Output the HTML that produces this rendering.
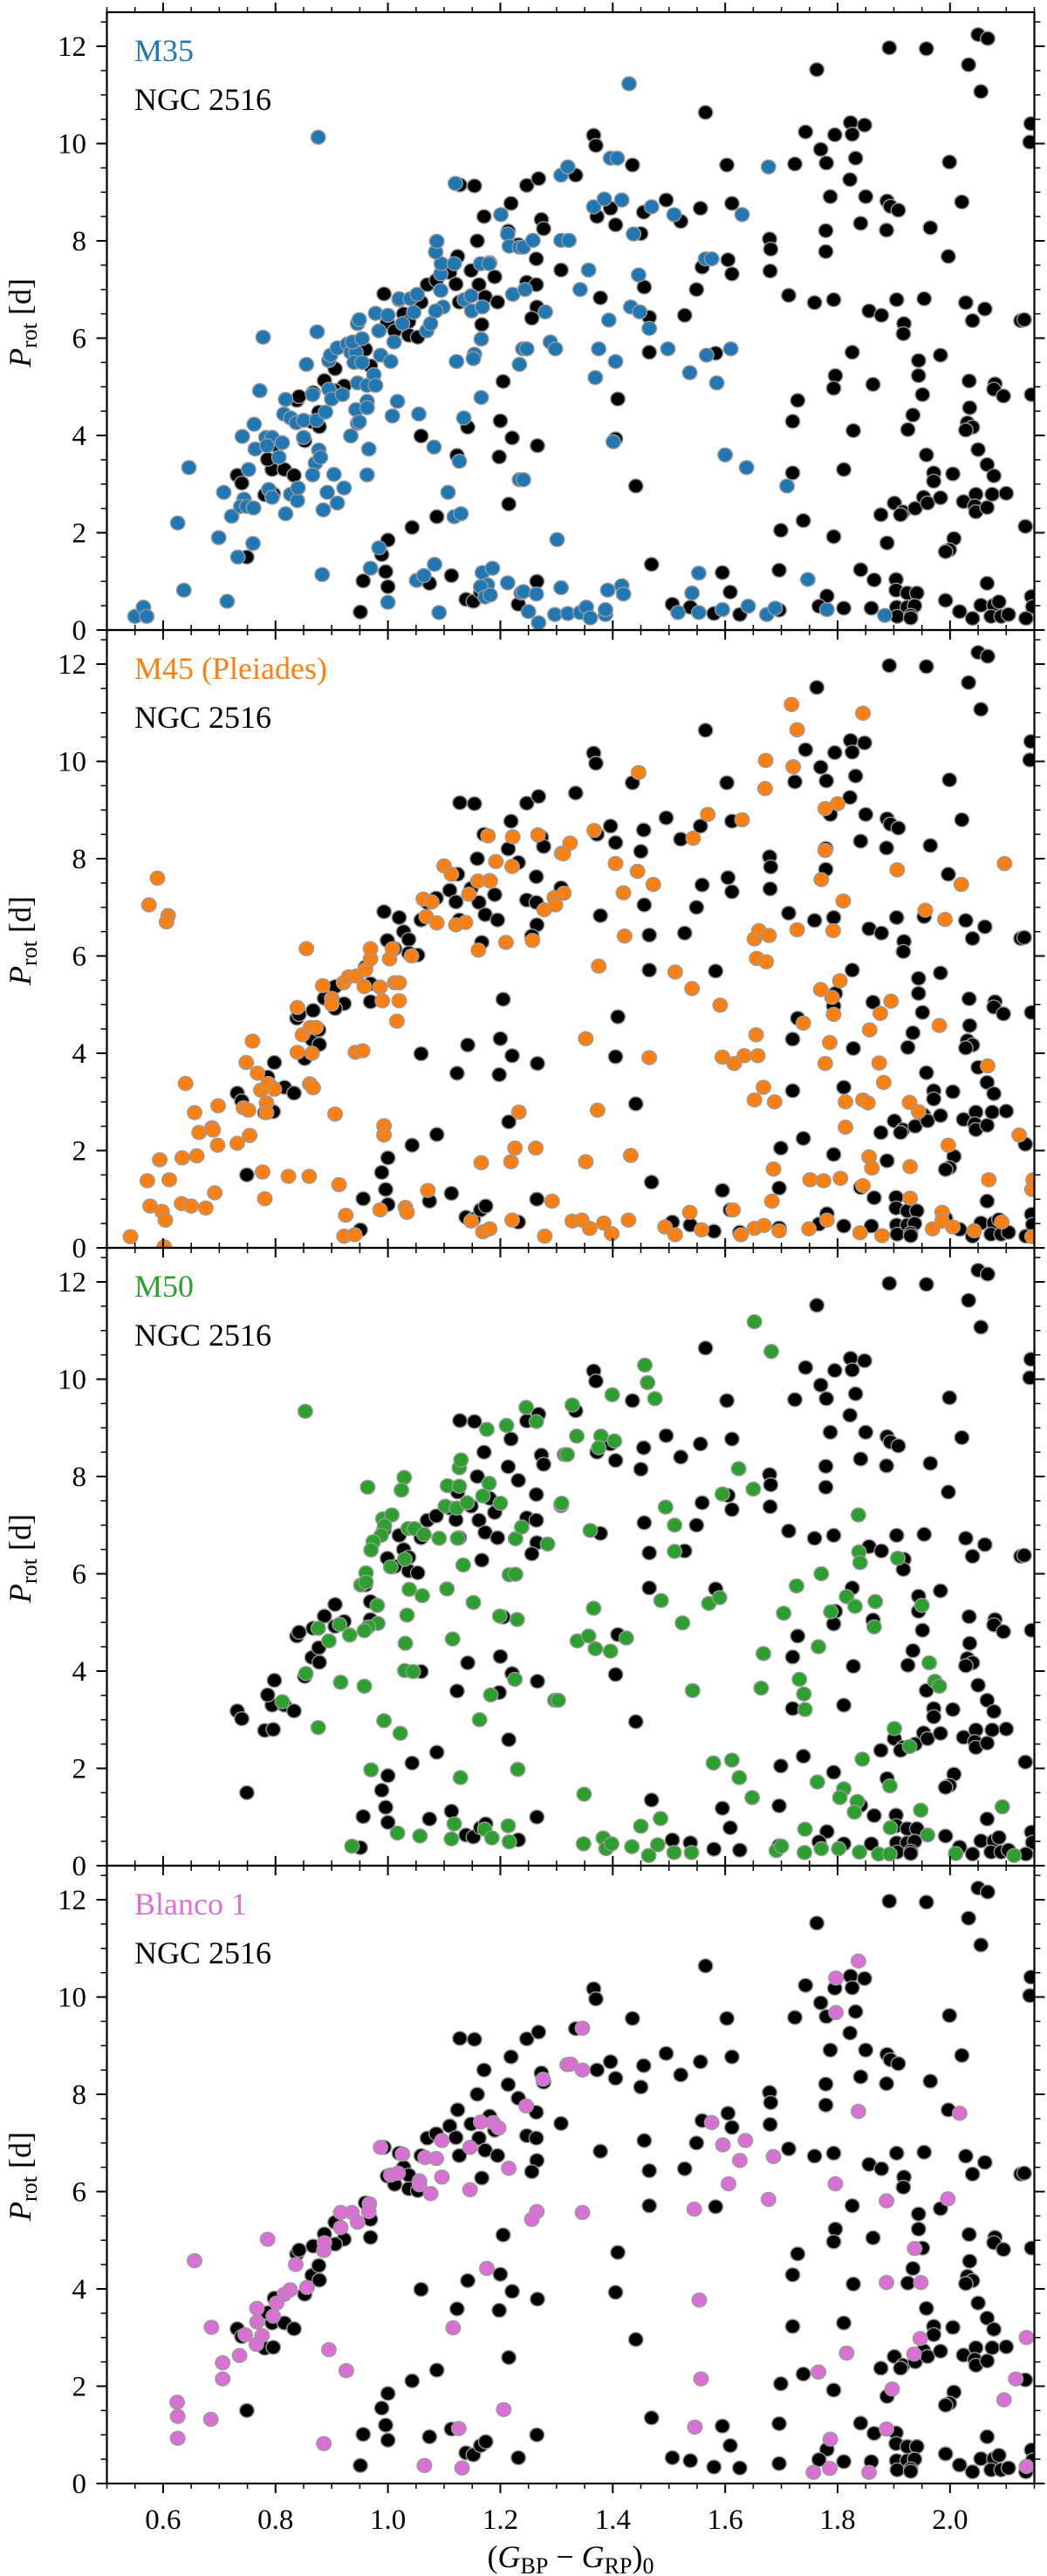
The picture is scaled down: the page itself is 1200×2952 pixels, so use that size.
<!DOCTYPE html>
<html><head><meta charset="utf-8"><title>Rotation periods vs colour</title>
<style>
html,body{margin:0;padding:0;background:#fff;}
svg{display:block;}
text{font-family:"Liberation Serif",serif;}
</style></head>
<body>
<svg id="chart" width="1200" height="2952" viewBox="0 0 1200 2952" xmlns="http://www.w3.org/2000/svg"></svg>
<script>
// ---- data ----
const xTicks = [0.6, 0.8, 1.0, 1.2, 1.4, 1.6, 1.8, 2.0];
const xTickLabels = ["0.6", "0.8", "1.0", "1.2", "1.4", "1.6", "1.8", "2.0"];
const yTicks = [0, 2, 4, 6, 8, 10, 12];
const yTickLabels = ["0", "2", "4", "6", "8", "10", "12"];
const panelNames = ["M35", "M45 (Pleiades)", "M50", "Blanco 1"];

const ngc2516 = [
[0.732,3.18],[0.74,3.02],[0.781,2.78],[0.796,2.8],[0.794,3.3],[0.816,3.3],[0.833,3.18],[0.786,3.51],[0.798,3.81],[0.749,1.5],
[0.852,3.89],[0.865,4.28],[0.878,4.18],[0.877,4.48],[0.838,4.72],[0.842,4.8],[0.867,4.88],[0.887,5.13],[0.906,5.37],[0.922,5.02],
[0.906,4.92],[0.969,5.43],[0.969,5.06],[0.96,5.77],[0.993,6.91],[1.02,6.79],[1.028,6.5],[0.999,6.32],[1.012,6.15],[1.037,6.34],
[1.037,6.06],[1.053,6.02],[1.059,6.74],[1.07,7.1],[1.086,7.19],[1.11,7.35],[1.121,7.11],[1.124,7.68],[1.127,6.74],[1.128,9.15],
[1.154,9.13],[1.148,7.39],[1.162,7.1],[1.173,6.85],[1.159,8.0],[1.171,8.5],[1.195,6.74],[1.167,6.28],[1.181,7.55],[1.19,7.26],
[1.219,8.77],[1.214,8.2],[1.232,7.92],[1.205,5.11],[1.2,4.3],[1.221,3.95],[1.198,3.56],[1.142,4.17],[1.123,3.59],[1.059,3.99],
[1.215,2.59],[1.087,2.33],[1.043,2.11],[1.0,1.85],[0.989,1.55],[0.996,1.2],[1.0,0.89],[0.956,1.01],[0.951,0.37],[1.074,0.96],
[1.113,1.12],[1.139,0.63],[1.152,0.59],[1.165,0.78],[1.174,0.86],[1.232,0.53],
[1.247,9.14],[1.268,9.28],[1.334,9.35],[1.366,10.17],[1.37,9.96],[1.435,9.56],[1.565,10.64],[1.603,9.56],[1.763,11.52],[1.892,11.97],
[1.958,11.95],[2.05,12.24],[2.067,12.16],[2.033,11.62],[2.055,11.07],[2.144,10.41],[2.142,10.03],[1.743,10.24],[1.795,10.18],[1.823,10.43],
[1.826,10.19],[1.848,10.38],[1.77,9.88],[1.78,9.6],[1.832,9.7],[1.724,9.58],[1.999,9.62],[1.273,8.44],[1.277,8.25],[1.372,8.5],
[1.396,8.67],[1.405,8.33],[1.45,8.15],[1.455,8.59],[1.495,8.84],[1.521,8.4],[1.556,8.67],[1.612,8.77],[1.679,8.04],[1.681,7.83],
[1.68,7.38],[1.605,7.61],[1.612,7.32],[1.559,7.46],[1.264,7.63],[1.308,7.4],[1.247,7.15],[1.264,7.1],[1.265,6.64],[1.256,6.41],
[1.378,6.83],[1.456,7.05],[1.465,6.43],[1.465,5.71],[1.549,7.0],[1.528,6.47],[1.583,5.69],[1.409,4.75],[1.405,3.93],[1.266,3.79],
[1.441,2.96],[1.469,1.35],[1.265,1.0],[1.595,1.18],[1.609,0.78],[1.506,0.53],[1.538,0.47],[1.58,0.34],[1.626,0.32],[1.696,0.41],
[1.696,1.23],[1.699,2.05],[1.739,2.25],[1.72,3.23],[1.72,4.29],[1.729,4.72],[1.713,6.88],[1.759,6.73],[1.779,8.21],[1.779,7.78],
[1.787,8.91],[1.793,6.79],[1.822,9.26],[1.85,8.91],[1.841,8.36],[1.888,8.82],[1.894,8.71],[1.908,8.63],[1.887,8.22],[1.965,8.27],
[2.021,8.8],[1.997,7.68],[1.856,6.56],[1.878,6.47],[1.905,6.79],[1.918,6.3],[1.917,6.09],[1.954,6.81],[2.028,6.73],[2.062,6.6],
[2.04,6.36],[2.126,6.36],[2.132,6.38],[1.826,5.71],[1.944,5.54],[1.983,5.65],[1.796,5.23],[1.793,4.97],[1.863,5.05],[1.944,5.23],
[1.951,4.84],[2.034,5.12],[2.08,5.06],[2.078,4.95],[2.095,4.81],[2.145,4.84],[2.035,4.57],[1.934,4.42],[1.925,4.12],[1.828,4.1],
[2.031,4.26],[2.04,4.17],[2.028,4.11],[2.05,3.71],[1.958,3.6],[1.811,3.3],[1.971,3.23],[1.971,3.06],[2.005,3.21],[2.066,3.4],
[2.078,3.17],[1.901,2.61],[1.916,2.43],[1.912,2.37],[1.877,2.37],[1.938,2.5],[1.953,2.73],[1.96,2.61],[1.983,2.72],[2.024,2.64],
[2.046,2.79],[2.044,2.55],[2.046,2.43],[2.066,2.52],[2.075,2.79],[2.1,2.81],[2.134,2.13],[1.793,1.92],[1.888,1.79],[2.007,1.88],
[1.999,1.65],[1.992,1.61],[1.841,1.24],[1.865,1.03],[1.904,1.04],[1.904,0.82],[1.924,0.76],[1.941,0.76],[2.066,0.96],[1.781,0.7],
[1.767,0.49],[1.811,0.45],[1.86,0.45],[1.905,0.47],[1.924,0.47],[1.937,0.5],[1.906,0.28],[1.93,0.3],[1.93,0.25],[1.992,0.61],
[2.017,0.38],[2.04,0.24],[2.055,0.51],[2.078,0.51],[2.087,0.58],[2.073,0.28],[2.091,0.28],[2.104,0.32],[2.145,0.69],[2.147,0.48],[2.135,0.24]
];

const m35 = [
[0.55,0.28],[0.565,0.47],[0.571,0.28],[0.626,2.2],[0.646,3.34],[0.637,0.82],[0.699,1.9],[0.714,0.59],[0.708,2.83],[0.722,2.34],
[0.733,1.5],[0.76,1.78],[0.741,3.98],[0.752,3.3],[0.744,2.69],[0.738,2.54],[0.749,2.54],[0.761,2.51],[0.762,4.23],[0.764,3.72],
[0.772,4.92],[0.778,6.02],[0.783,3.96],[0.794,3.96],[0.785,3.79],[0.812,3.85],[0.806,3.55],[0.788,2.89],[0.794,2.73],[0.818,4.74],
[0.815,4.44],[0.827,4.36],[0.837,4.26],[0.85,4.31],[0.818,2.39],[0.827,2.79],[0.839,2.66],[0.84,2.92],[0.85,3.96],[0.855,5.46],
[0.866,4.84],[0.873,4.31],[0.874,6.13],[0.876,10.13],[0.877,3.7],[0.871,3.43],[0.88,3.55],[0.866,3.19],[0.883,1.14],[0.885,2.47],
[0.892,2.83],[0.889,4.48],[0.895,4.95],[0.9,4.75],[0.895,5.54],[0.898,5.65],[0.91,5.8],[0.904,3.2],[0.91,2.61],[0.922,2.92],
[0.919,4.84],[0.928,5.88],[0.934,5.71],[0.943,5.71],[0.937,5.92],[0.94,5.5],[0.954,5.5],[0.954,5.99],[0.946,6.3],[0.949,6.38],
[0.946,5.08],[0.963,5.03],[0.975,5.25],[0.978,5.03],[0.934,3.99],[0.943,4.53],[0.946,4.25],[0.949,4.28],[0.963,4.7],[0.963,4.57],
[0.966,3.72],[0.963,3.19],[0.978,6.51],[0.984,6.15],[0.987,5.65],[1.0,6.47],[1.005,5.52],[1.008,4.4],[1.017,4.7],[0.984,1.69],
[0.969,1.27],[1.0,0.57],[1.011,5.92],[1.02,6.81],[1.026,6.3],[1.04,6.81],[1.046,6.53],[1.052,6.9],[1.055,4.44],[1.051,1.02],
[1.064,1.12],[1.069,6.15],[1.076,6.3],[1.082,3.76],[1.083,1.35],[1.091,0.36],[1.094,6.98],[1.094,7.32],[1.095,7.53],[1.085,7.77],
[1.087,7.99],[1.098,6.64],[1.085,6.56],[1.107,2.83],[1.118,2.33],[1.13,2.39],[1.118,7.53],[1.12,9.18],[1.122,5.52],[1.127,3.47],
[1.135,4.36],[1.136,6.79],[1.149,6.56],[1.148,6.87],[1.154,5.67],[1.152,5.58],[1.166,5.98],[1.166,4.78],[1.165,7.53],[1.18,7.53],
[1.168,6.64],[1.168,1.18],[1.177,0.93],[1.186,1.27],[1.165,0.89],[1.173,0.68],[1.182,0.72],[1.201,8.54],[1.213,8.14],[1.216,7.89],
[1.234,7.87],[1.222,6.9],[1.234,5.46],[1.234,3.09],[1.24,5.78],[1.213,0.97],[1.237,0.76],
[1.241,7.87],[1.258,8.01],[1.308,9.35],[1.32,9.52],[1.396,9.7],[1.408,9.7],[1.429,11.23],[1.366,8.7],[1.385,8.86],[1.416,8.84],
[1.469,8.7],[1.509,8.54],[1.63,8.54],[1.677,9.52],[1.308,8.01],[1.322,8.01],[1.437,8.14],[1.565,7.63],[1.576,7.63],[1.244,7.0],
[1.28,6.54],[1.357,7.4],[1.342,7.0],[1.446,7.3],[1.432,6.64],[1.448,6.54],[1.465,6.2],[1.393,6.37],[1.247,5.78],[1.289,5.92],
[1.298,5.78],[1.375,5.78],[1.405,5.52],[1.369,5.19],[1.498,5.78],[1.61,5.78],[1.567,5.65],[1.537,5.29],[1.585,5.08],[1.401,3.87],
[1.6,3.6],[1.638,3.34],[1.71,2.96],[1.301,1.86],[1.241,3.09],[1.553,1.17],[1.747,1.04],[1.308,0.87],[1.416,0.91],[1.419,0.74],
[1.391,0.82],[1.241,0.79],[1.264,0.74],[1.541,0.76],[1.25,0.38],[1.268,0.15],[1.297,0.32],[1.32,0.34],[1.342,0.36],[1.353,0.47],
[1.36,0.25],[1.387,0.32],[1.387,0.42],[1.516,0.36],[1.553,0.36],[1.595,0.42],[1.641,0.49],[1.674,0.32],[1.689,0.45],[1.781,0.42],[1.884,0.3]
];

const m45 = [
[0.542,0.23],[0.602,0.02],[0.59,7.6],[0.575,7.05],[0.609,6.83],[0.606,6.7],[0.572,1.38],[0.594,1.81],[0.611,1.4],[0.577,0.86],
[0.598,0.75],[0.604,0.57],[0.633,0.91],[0.65,0.86],[0.676,0.82],[0.692,1.13],[0.634,1.85],[0.66,1.89],[0.64,3.38],[0.656,2.78],
[0.664,2.37],[0.687,2.47],[0.689,2.42],[0.697,2.11],[0.698,2.92],[0.732,2.15],[0.754,2.31],[0.743,2.88],[0.752,2.83],[0.748,3.81],
[0.759,4.25],[0.768,3.59],[0.777,1.56],[0.781,1.01],[0.774,3.24],[0.787,3.38],[0.784,2.98],[0.784,2.78],[0.798,3.26],[0.823,1.47],
[0.86,1.47],[0.839,4.94],[0.848,4.38],[0.839,4.02],[0.865,4.0],[0.862,4.53],[0.872,4.53],[0.855,6.15],[0.861,3.37],[0.867,3.29],
[0.884,5.39],[0.9,5.13],[0.9,5.01],[0.906,2.75],[0.913,1.3],[0.921,5.45],[0.93,5.57],[0.944,5.59],[0.942,4.02],[0.955,4.05],
[0.925,0.67],[0.922,0.24],[0.941,0.27],[0.958,5.37],[0.96,5.72],[0.969,5.94],[0.969,6.15],[0.986,5.36],[0.99,5.08],[0.993,2.51],
[0.993,2.32],[0.986,0.78],[1.003,5.94],[1.008,6.15],[1.012,5.45],[1.02,5.45],[1.02,5.08],[1.016,4.66],[1.031,0.83],[1.034,0.73],
[1.042,6.0],[1.063,7.17],[1.068,6.81],[1.078,7.11],[1.087,6.68],[1.071,1.18],[1.1,7.85],[1.113,7.68],[1.121,6.64],[1.138,6.69],
[1.144,7.27],[1.16,7.54],[1.182,7.54],[1.178,8.47],[1.192,7.94],[1.161,6.12],[1.166,1.75],[1.148,0.55],[1.169,0.33],[1.181,0.39],
[1.21,6.28],[1.222,8.45],[1.221,7.84],[1.219,1.77],[1.226,2.05],[1.233,2.79],[1.221,0.57],[1.257,6.32],[1.263,2.05],[1.267,8.49],
[1.278,6.95],[1.292,0.96],[1.279,0.24],[1.296,7.2],[1.298,7.05],[1.309,8.11],
[1.312,8.1],[1.324,8.32],[1.313,7.29],[1.367,8.58],[1.405,7.9],[1.444,7.74],[1.446,9.77],[1.419,7.3],[1.472,7.47],[1.421,6.41],
[1.375,5.79],[1.511,5.67],[1.541,5.33],[1.543,8.42],[1.569,8.91],[1.63,8.8],[1.591,4.99],[1.352,4.3],[1.465,3.91],[1.373,2.83],
[1.352,1.77],[1.432,1.9],[1.595,3.92],[1.616,3.79],[1.634,3.95],[1.658,3.95],[1.655,4.38],[1.652,6.35],[1.66,6.52],[1.678,6.42],
[1.656,5.95],[1.673,5.88],[1.672,10.02],[1.671,9.44],[1.718,11.17],[1.728,10.65],[1.721,9.89],[1.845,10.99],[1.778,9.03],[1.8,9.13],
[1.778,8.17],[1.771,7.57],[1.81,7.13],[1.728,6.54],[1.792,6.52],[1.77,5.31],[1.79,5.15],[1.804,5.49],[1.793,4.8],[1.739,4.62],
[1.786,4.22],[1.778,3.79],[1.906,7.77],[1.956,6.94],[1.991,6.75],[2.02,7.47],[2.097,7.9],[1.895,5.07],[1.876,4.82],[1.857,4.48],
[1.981,4.57],[1.874,3.8],[1.882,3.4],[1.668,3.3],[1.652,3.04],[1.688,3.0],[1.814,3.0],[1.845,3.04],[1.854,2.98],[1.814,2.48],
[1.928,2.99],[1.944,2.8],[2.067,3.74],[1.997,2.11],[2.123,2.32],[1.856,1.87],[1.861,1.64],[1.929,1.67],[2.069,1.4],[1.686,1.62],
[1.751,1.4],[1.775,1.38],[1.805,1.43],[1.845,1.28],[1.683,0.96],[1.929,1.02],[2.148,1.4],[2.146,1.2],[1.537,0.73],[1.614,0.78],
[1.328,0.55],[1.345,0.57],[1.359,0.4],[1.384,0.51],[1.398,0.29],[1.428,0.57],[1.493,0.43],[1.511,0.27],[1.558,0.37],[1.628,0.27],
[1.652,0.4],[1.669,0.46],[1.696,0.35],[1.749,0.39],[1.781,0.57],[1.84,0.31],[1.879,0.25],[1.969,0.39],[1.986,0.73],[1.986,0.55],
[2.005,0.43],[2.043,0.35],[2.092,0.53],[2.146,0.23]
];

const m50 = [
[0.853,9.34],[0.964,7.78],[1.029,7.98],[1.024,7.72],[0.991,7.13],[1.007,7.21],[0.994,6.99],[0.988,6.79],[0.974,6.66],[0.97,6.49],
[1.005,6.14],[1.03,6.3],[0.961,6.02],[0.952,5.77],[0.961,5.83],[1.036,6.93],[1.047,6.93],[1.064,6.81],[1.091,6.73],[1.102,7.39],
[1.106,7.81],[1.127,7.8],[1.127,8.18],[1.13,8.34],[1.122,7.35],[1.141,7.46],[1.124,6.73],[1.169,7.6],[1.18,7.86],[1.2,7.45],
[1.176,8.97],[1.211,9.05],[1.246,9.42],[1.264,9.13],[1.134,6.18],[1.227,6.72],[1.238,6.96],[1.284,6.61],[1.216,5.98],[1.227,5.99],
[1.038,5.68],[1.061,5.55],[1.105,5.69],[1.152,5.41],[0.981,5.35],[0.982,4.98],[0.965,4.91],[0.958,4.83],[1.034,5.15],[1.031,4.57],
[0.914,4.96],[0.932,4.74],[0.895,4.62],[0.876,4.88],[0.854,3.95],[0.916,3.77],[0.958,3.69],[1.03,4.01],[1.045,3.99],[1.115,4.66],
[1.199,5.13],[1.23,5.06],[1.226,3.83],[1.183,3.51],[1.297,3.4],[0.812,3.37],[0.876,2.84],[0.993,2.98],[1.022,2.72],[1.163,3.0],
[0.97,1.97],[1.129,1.81],[1.231,1.98],[1.017,0.67],[1.057,0.61],[0.936,0.4],[1.118,0.86],[1.113,0.55],[1.172,0.75],[1.185,0.57],
[1.214,0.82],[1.216,0.49],[1.308,7.43],[1.314,8.45],
[1.328,9.47],[1.336,8.83],[1.319,8.45],[1.379,8.83],[1.375,8.59],[1.403,8.73],[1.399,9.68],[1.457,10.29],[1.462,9.93],[1.475,9.6],
[1.652,11.18],[1.682,10.57],[1.309,7.45],[1.36,6.89],[1.494,7.37],[1.51,7.0],[1.51,6.46],[1.624,8.16],[1.595,7.64],[1.65,7.74],
[1.486,5.45],[1.366,5.29],[1.524,4.99],[1.571,5.39],[1.59,5.51],[1.337,4.62],[1.357,4.72],[1.369,4.46],[1.396,4.41],[1.424,4.68],
[1.303,3.4],[1.542,3.6],[1.668,4.36],[1.664,3.65],[1.704,5.19],[1.727,5.75],[1.771,6.0],[1.837,7.21],[1.838,6.45],[1.84,6.23],
[1.816,5.53],[1.831,5.33],[1.867,5.43],[1.788,5.22],[1.865,4.91],[1.907,6.32],[1.95,5.35],[1.766,4.5],[1.732,3.83],[1.74,3.53],
[1.742,3.21],[1.963,4.17],[1.973,3.79],[1.981,3.69],[1.901,2.82],[1.928,2.45],[1.844,2.19],[1.579,2.11],[1.612,2.17],[1.625,1.81],
[1.648,1.4],[1.349,1.47],[1.485,0.97],[1.45,0.81],[1.764,1.72],[1.811,1.58],[1.804,1.4],[1.835,1.32],[1.83,1.1],[1.893,1.64],
[1.948,1.14],[2.093,1.21],[1.742,0.75],[1.894,0.78],[1.96,0.63],[1.348,0.45],[1.383,0.57],[1.388,0.35],[1.398,0.45],[1.434,0.39],
[1.464,0.21],[1.48,0.43],[1.509,0.27],[1.54,0.27],[1.691,0.31],[1.7,0.4],[1.741,0.27],[1.771,0.35],[1.802,0.35],[1.839,0.28],
[1.873,0.24],[1.893,0.24],[2.01,0.25],[2.114,0.21]
];

const blanco1 = [
[0.656,4.58],[0.786,5.02],[0.686,3.21],[0.625,1.67],[0.626,1.38],[0.626,0.93],[0.685,1.32],[0.706,2.48],[0.706,2.15],[0.736,2.63],
[0.746,3.06],[0.766,2.86],[0.776,3.04],[0.767,3.6],[0.767,3.32],[0.796,3.44],[0.802,3.71],[0.816,3.89],[0.826,3.98],[0.856,4.03],
[0.836,4.5],[0.886,4.79],[0.887,4.95],[0.916,5.57],[0.916,5.26],[0.936,5.57],[0.946,5.37],[0.967,5.75],[0.966,5.59],[0.987,6.91],
[1.026,6.77],[1.005,6.34],[1.018,6.38],[1.056,6.22],[1.056,6.14],[1.066,6.7],[1.086,6.68],[1.076,5.96],[1.096,7.05],[1.096,6.3],
[1.146,6.91],[1.146,6.04],[1.165,7.43],[1.187,7.42],[1.197,7.31],[1.215,6.48],[1.246,7.76],[1.276,8.31],[1.319,8.61],[1.265,5.59],
[1.256,5.43],[1.176,4.42],[1.116,3.2],[0.895,2.75],[0.926,2.32],[1.206,1.52],[1.126,1.13],[0.886,0.82],[1.065,0.37],[1.132,0.32],
[1.346,9.36],[1.325,8.62],[1.346,8.5],[1.346,5.57],[1.545,5.64],[1.606,6.16],[1.576,7.42],[1.596,6.96],[1.636,7.05],[1.626,6.64],
[1.686,6.72],[1.677,5.84],[1.837,10.74],[1.797,10.39],[1.797,9.68],[1.837,7.65],[1.796,6.16],[1.887,5.81],[2.017,7.61],[1.996,5.85],
[1.554,3.77],[1.557,2.15],[1.546,1.16],[1.937,4.83],[1.887,4.13],[1.948,4.13],[1.947,2.98],[1.936,2.66],[1.816,2.68],[1.766,2.29],
[1.897,1.94],[1.887,1.12],[1.787,0.91],[1.757,0.23],[1.786,0.31],[1.856,0.23],[2.136,3.0],[2.117,2.15],[2.096,1.72],[2.136,0.35]
];

const panelSeries = [m35, m45, m50, blanco1];
const panelColors = ["#1f77b4", "#ff7f0e", "#2ca02c", "#da70d6"];

// ---- layout ----
const NS = "http://www.w3.org/2000/svg";
const svg = document.getElementById("chart");
const L = 122.5, R = 1185.5, PH = 708, TOP0 = 14;
const XMIN = 0.5, XMAX = 2.15, YMIN = 0, YMAX = 12.7;
function xScale(v) { return L + (v - XMIN) / (XMAX - XMIN) * (R - L); }
function yScale(v, top) { return top + PH - (v - YMIN) / (YMAX - YMIN) * PH; }
function mk(tag, attrs, parent) {
  const el = document.createElementNS(NS, tag);
  for (const k in attrs) el.setAttribute(k, attrs[k]);
  (parent || svg).appendChild(el);
  return el;
}

const defs = mk("defs", {});

for (let p = 0; p < 4; p++) {
  const top = TOP0 + p * PH;
  const g = mk("g", {});
  
  

  const cp = mk("clipPath", { id: "clip" + p }, defs);
  mk("rect", { x: L, y: top, width: R - L, height: PH }, cp);

  // points
  const pts = mk("g", { "clip-path": "url(#clip" + p + ")" }, g);
  
  
  ngc2516.forEach(function (d) {
    const c = mk("ellipse", { cx: xScale(d[0]), cy: yScale(d[1], top), rx: 8.3, ry: 8, fill: "#000", stroke: "#999", "stroke-width": 1.4 }, pts);
    
    
  });
  panelSeries[p].forEach(function (d) {
    const c = mk("ellipse", { cx: xScale(d[0]), cy: yScale(d[1], top), rx: 8.3, ry: 8, fill: panelColors[p], stroke: "#999", "stroke-width": 1.4 }, pts);
    
    
  });

  // frame
  const fr = mk("rect", { x: L, y: top, width: R - L, height: PH, fill: "none", stroke: "#000", "stroke-width": 2.2 }, g);
  
  

  // x ticks (outward top & bottom)
  for (let v = 0.5; v <= 2.1501; v += 0.05) {
    const vv = Math.round(v * 100) / 100;
    const major = Math.abs(Math.round(vv * 5) - vv * 5) < 1e-6;
    const len = major ? 11 : 6;
    const x = xScale(vv);
    mk("line", { x1: x, x2: x, y1: top + PH, y2: top + PH + len, stroke: "#000", "stroke-width": major ? 2 : 1.5 }, g);
    mk("line", { x1: x, x2: x, y1: top, y2: top - len, stroke: "#000", "stroke-width": major ? 2 : 1.5 }, g);
  }
  // y ticks (outward left & right)
  for (let v = 0; v <= 12.5001; v += 0.5) {
    const major = Math.abs(v % 2) < 1e-6;
    const len = major ? 12 : 7;
    const y = yScale(v, top);
    mk("line", { x1: L, x2: L - len, y1: y, y2: y, stroke: "#000", "stroke-width": major ? 2 : 1.5 }, g);
    mk("line", { x1: R, x2: R + len, y1: y, y2: y, stroke: "#000", "stroke-width": major ? 2 : 1.5 }, g);
  }
  // y tick labels
  yTicks.forEach(function (v, i) {
    const t = mk("text", { x: 99, y: yScale(v, top) + 11, "text-anchor": "end", "font-size": 33 }, g);
    t.textContent = yTickLabels[i];
    
    
  });
  // y axis title
  const yt = mk("text", { transform: "translate(35," + (top + 356) + ") rotate(-90)", "text-anchor": "middle", "font-size": 36 }, g);
  
  
  const tp1 = mk("tspan", { "font-style": "italic" }, yt); tp1.textContent = "P";
  const tp2 = mk("tspan", { "font-size": 26, dy: 7 }, yt); tp2.textContent = "rot";
  const tp3 = mk("tspan", { dy: -7 }, yt); tp3.textContent = " [d]";

  // legend labels
  const l1 = mk("text", { x: 154, y: top + 56, "font-size": 36, fill: panelColors[p] }, g);
  l1.textContent = panelNames[p];
  
  
  const l2 = mk("text", { x: 154, y: top + 112, "font-size": 36, fill: "#000" }, g);
  l2.textContent = "NGC 2516";
  
  
}

// x tick labels (bottom panel only)
xTicks.forEach(function (v, i) {
  const t = mk("text", { x: xScale(v), y: 2898, "text-anchor": "middle", "font-size": 33 });
  t.textContent = xTickLabels[i];
  
  
});

// x axis title
const xt = mk("text", { x: 654, y: 2942, "text-anchor": "middle", "font-size": 36 });


[["(", {}], ["G", { "font-style": "italic" }], ["BP", { "font-size": 26, dy: 7 }], [" \u2212 ", { dy: -7 }],
 ["G", { "font-style": "italic" }], ["RP", { "font-size": 26, dy: 7 }], [")", { dy: -7 }], ["0", { "font-size": 26, dy: 7 }]]
.forEach(function (s) { const ts = mk("tspan", s[1], xt); ts.textContent = s[0]; });
</script>
</body></html>
